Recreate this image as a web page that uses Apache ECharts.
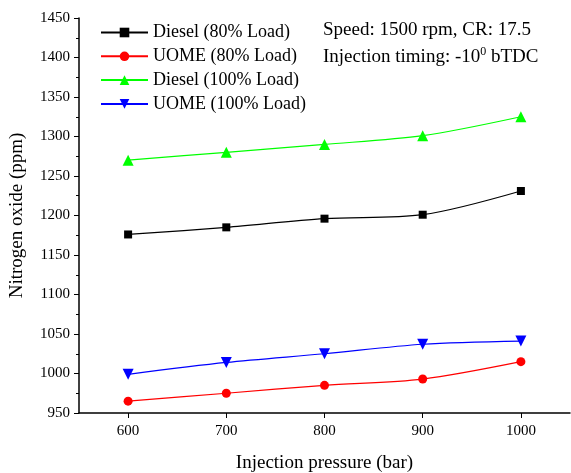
<!DOCTYPE html>
<html><head><meta charset="utf-8">
<script src="https://cdn.jsdelivr.net/npm/echarts@6/dist/echarts.min.js"></script>
<style>html,body{margin:0;padding:0;background:#fff}#c{width:571px;height:473px}</style>
</head><body><div id="c"></div>
<script>
const pressures = [600, 700, 800, 900, 1000];
const diesel80 = [1176, 1185, 1196, 1201, 1231];
const uome80 = [965, 975, 985, 993, 1015];
const diesel100 = [1270, 1280, 1290, 1301, 1325];
const uome100 = [999, 1014, 1025, 1037, 1041];
const seriesNames = ['Diesel (80% Load)', 'UOME (80% Load)', 'Diesel (100% Load)', 'UOME (100% Load)'];

const font = 'Liberation Serif';
const chart = echarts.init(document.getElementById('c'));
function mk(name, vals, color, symbol, size) {
  return {
    name, type: 'line', smooth: 0.3,
    data: pressures.map((p, i) => [p, vals[i]]),
    symbol, symbolSize: size,
    itemStyle: { color },
    lineStyle: { color, width: 1.2 },
    z: 3
  };
}
chart.setOption({
  animation: false,
  backgroundColor: '#fff',
  grid: { left: 79, right: 1, top: 18, bottom: 60, containLabel: false, outerBoundsMode: 'none' },
  legend: {
    orient: 'vertical', left: 95, top: 18.5,
    itemWidth: 47, itemHeight: 12, itemGap: 5.8,
    textStyle: { fontFamily: font, fontSize: 18, color: '#000' },
    data: seriesNames
  },
  xAxis: {
    type: 'value', min: 550, max: 1050, interval: 100,
    name: 'Injection pressure (bar)', nameLocation: 'middle', nameGap: 41,
    nameTextStyle: { fontFamily: font, fontSize: 19, color: '#000' },
    axisLine: { lineStyle: { color: '#000', width: 1.5 } },
    axisTick: { show: true, length: 5, lineStyle: { color: '#000' }, customValues: [600, 700, 800, 900, 1000] },
    minorTick: { show: true, splitNumber: 2, length: 3, lineStyle: { color: '#000' } },
    axisLabel: { fontFamily: font, fontSize: 15, color: '#000', margin: 11, formatter: v => String(v), customValues: [600, 700, 800, 900, 1000] },
    splitLine: { show: false }
  },
  yAxis: {
    type: 'value', min: 950, max: 1450, interval: 50,
    name: 'Nitrogen oxide (ppm)', nameLocation: 'middle', nameGap: 52, nameRotate: 90,
    nameTextStyle: { fontFamily: font, fontSize: 19, color: '#000' },
    axisLine: { show: true, lineStyle: { color: '#000', width: 1.5 } },
    axisTick: { show: true, length: 5, lineStyle: { color: '#000' } },
    minorTick: { show: true, splitNumber: 2, length: 3, lineStyle: { color: '#000' } },
    axisLabel: { fontFamily: font, fontSize: 15, color: '#000', margin: 9, formatter: v => String(v) },
    splitLine: { show: false }
  },
  graphic: [
    { type: 'text', left: 323, top: 21, style: { text: 'Speed: 1500 rpm, CR: 17.5', font: '19px "Liberation Serif"', fill: '#000' } },
    { type: 'text', left: 323, top: 46, style: {
      text: '{a|Injection timing: -10}{s|0}{a| bTDC}',
      rich: { a: { font: '19px "Liberation Serif"', fill: '#000', verticalAlign: 'bottom' }, s: { font: '12px "Liberation Serif"', fill: '#000', verticalAlign: 'top', padding: [0,0,9,0] } }
    } }
  ],
  series: [
    mk(seriesNames[0], diesel80, '#000000', 'rect', 8),
    mk(seriesNames[1], uome80, '#ff0000', 'circle', 9),
    mk(seriesNames[2], diesel100, '#00ff00', 'triangle', 11),
    Object.assign(mk(seriesNames[3], uome100, '#0000ff', 'triangle', 11), { symbolRotate: 180 })
  ]
});
</script></body></html>
